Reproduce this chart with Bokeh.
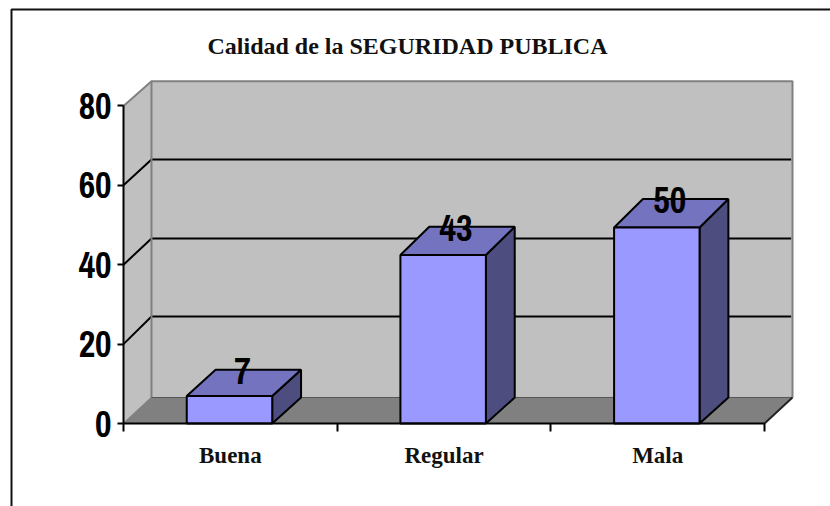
from bokeh.plotting import figure
from bokeh.models import Range1d, FixedTicker, Label
from bokeh.core.properties import value
from bokeh.embed import file_html
from bokeh.resources import INLINE

# ---- data ----
TITLE = "Calidad de la SEGURIDAD PUBLICA"
categories = ["Buena", "Regular", "Mala"]
values = [7, 43, 50]
y_ticks = [0, 20, 40, 60, 80]
grid_values = [20, 40, 60]

# ---- style ----
WALL = "#C0C0C0"
FLOOR = "#808080"
EDGE = "#808080"
BAR_FRONT = "#9999FF"
BAR_TOP = "#7373BF"
BAR_SIDE = "#4D4D80"
NARROW = "'Archivo Narrow', 'Liberation Sans', sans-serif"
SERIF = "Liberation Serif"

# pseudo-3D projection, in axis units
DX = 0.131          # wall depth along x
DY_FLOOR = 6.55     # wall depth along y at the floor
DY_GRID = [6.95, 6.6, 6.5]  # at each gridline
DY_TOP = 6.2        # at the top of the wall
BAR_W = 0.4
BAR_DX = 0.135
BAR_SHIFT = -0.004
FRONT_SCALE = 0.9875  # bar fronts sit slightly flatter than the axis

# page layout: where the axes' origin sits, and the size of one unit
W, H = 830, 506
ORIGIN_X, ORIGIN_Y = 123, 423
PX_PER_CAT, PX_PER_VAL = 213.67, 3.97


def px_x(px):
    return (px - ORIGIN_X) / PX_PER_CAT


def px_y(px):
    return (ORIGIN_Y - px) / PX_PER_VAL


p = figure(width=W, height=H, output_backend="svg", toolbar_location=None,
           x_range=Range1d(px_x(0), px_x(W)), y_range=Range1d(px_y(H), px_y(0)),
           min_border_left=0, min_border_top=0, min_border_bottom=0, min_border_right=0,
           background_fill_color="white", border_fill_color="white", tools="")
p.outline_line_color = None
p.grid.visible = False

n = len(categories)
top_v = y_ticks[-1]

# page frame (left and top rule)
p.line([px_x(11), px_x(11), px_x(W)], [px_y(H), px_y(9), px_y(9)], line_color="#111111", line_width=2)

# walls and floor
p.patch([DX, n + DX, n + DX, DX], [DY_FLOOR, DY_FLOOR, top_v + DY_TOP, top_v + DY_TOP],
        fill_color=WALL, line_color=None)
p.patch([0, DX, DX, 0], [0, DY_FLOOR, top_v + DY_TOP, top_v], fill_color=WALL, line_color=None)
p.patch([0, n, n + DX, DX], [0, 0, DY_FLOOR, DY_FLOOR], fill_color=FLOOR, line_color=None)

# gridlines: slanted on the side wall, straight on the back wall
for g, d in zip(grid_values, DY_GRID):
    p.line([0, DX, n + DX - 0.006], [g, g + d, g + d], line_color="black", line_width=2)

# wall edges
p.line([0, DX, n + DX, n + DX], [top_v, top_v + DY_TOP, top_v + DY_TOP, DY_FLOOR],
       line_color=EDGE, line_width=2)
p.line([DX, DX], [DY_FLOOR, top_v + DY_TOP], line_color=EDGE, line_width=2)
p.line([0, DX], [0, DY_FLOOR], line_color=EDGE, line_width=1.5)
p.line([DX, n + DX], [DY_FLOOR, DY_FLOOR], line_color="#555555", line_width=1)
p.line([n, n + DX], [0, DY_FLOOR], line_color="#222222", line_width=2)

# bars
for i, v in enumerate(values):
    x0 = i + 0.5 + BAR_SHIFT - BAR_W / 2
    x1 = i + 0.5 + BAR_SHIFT + BAR_W / 2
    yf = v * FRONT_SCALE
    yb = v + DY_FLOOR
    p.patch([x1, x1 + BAR_DX, x1 + BAR_DX, x1], [0, DY_FLOOR, yb, yf],
            fill_color=BAR_SIDE, line_color="black", line_width=2)
    p.patch([x0, x1, x1 + BAR_DX, x0 + BAR_DX], [yf, yf, yb, yb],
            fill_color=BAR_TOP, line_color="black", line_width=2)
    p.patch([x0, x1, x1, x0], [0, 0, yf, yf],
            fill_color=BAR_FRONT, line_color="black", line_width=2)

# value labels
p.text([i + 0.5 for i in range(n)], values, text=[str(v) for v in values],
       text_font=value(NARROW), text_font_style="bold", text_font_size="36px",
       text_color="black", text_align="center", text_baseline="middle",
       x_offset=12, y_offset=-25)

# axes, pinned to the origin so they take no side panel
ya = p.yaxis[0]
ya.fixed_location = 0
ya.ticker = FixedTicker(ticks=y_ticks)
ya.bounds = (0, top_v)
ya.axis_line_color = "black"
ya.axis_line_width = 2
ya.major_tick_line_color = "black"
ya.major_tick_line_width = 2
ya.major_tick_in = 0
ya.major_tick_out = 6
ya.minor_tick_line_color = None
ya.major_label_standoff = 6
ya.major_label_text_font = NARROW
ya.major_label_text_font_style = "bold"
ya.major_label_text_font_size = "36px"
ya.major_label_text_color = "black"

xa = p.xaxis[0]
xa.fixed_location = 0
xa.ticker = FixedTicker(ticks=[i + 0.5 for i in range(n)], minor_ticks=list(range(n + 1)))
xa.major_label_overrides = {i + 0.5: c for i, c in enumerate(categories)}
xa.bounds = (0, n)
xa.axis_line_color = "black"
xa.axis_line_width = 2
xa.major_tick_line_color = None
xa.major_tick_in = 0
xa.major_tick_out = 0
xa.minor_tick_line_color = "black"
xa.minor_tick_line_width = 2
xa.minor_tick_in = 0
xa.minor_tick_out = 8
xa.major_label_standoff = 11
xa.major_label_text_font = SERIF
xa.major_label_text_font_style = "bold"
xa.major_label_text_font_size = "23px"
xa.major_label_text_color = "#111111"

# title
p.add_layout(Label(x=px_x(407), y=px_y(45), text=TITLE, text_font=SERIF, text_font_style="bold",
                   text_font_size="24px", text_color="#111111", text_align="center",
                   text_baseline="middle"))

open("out.html", "w").write(file_html(p, INLINE))
